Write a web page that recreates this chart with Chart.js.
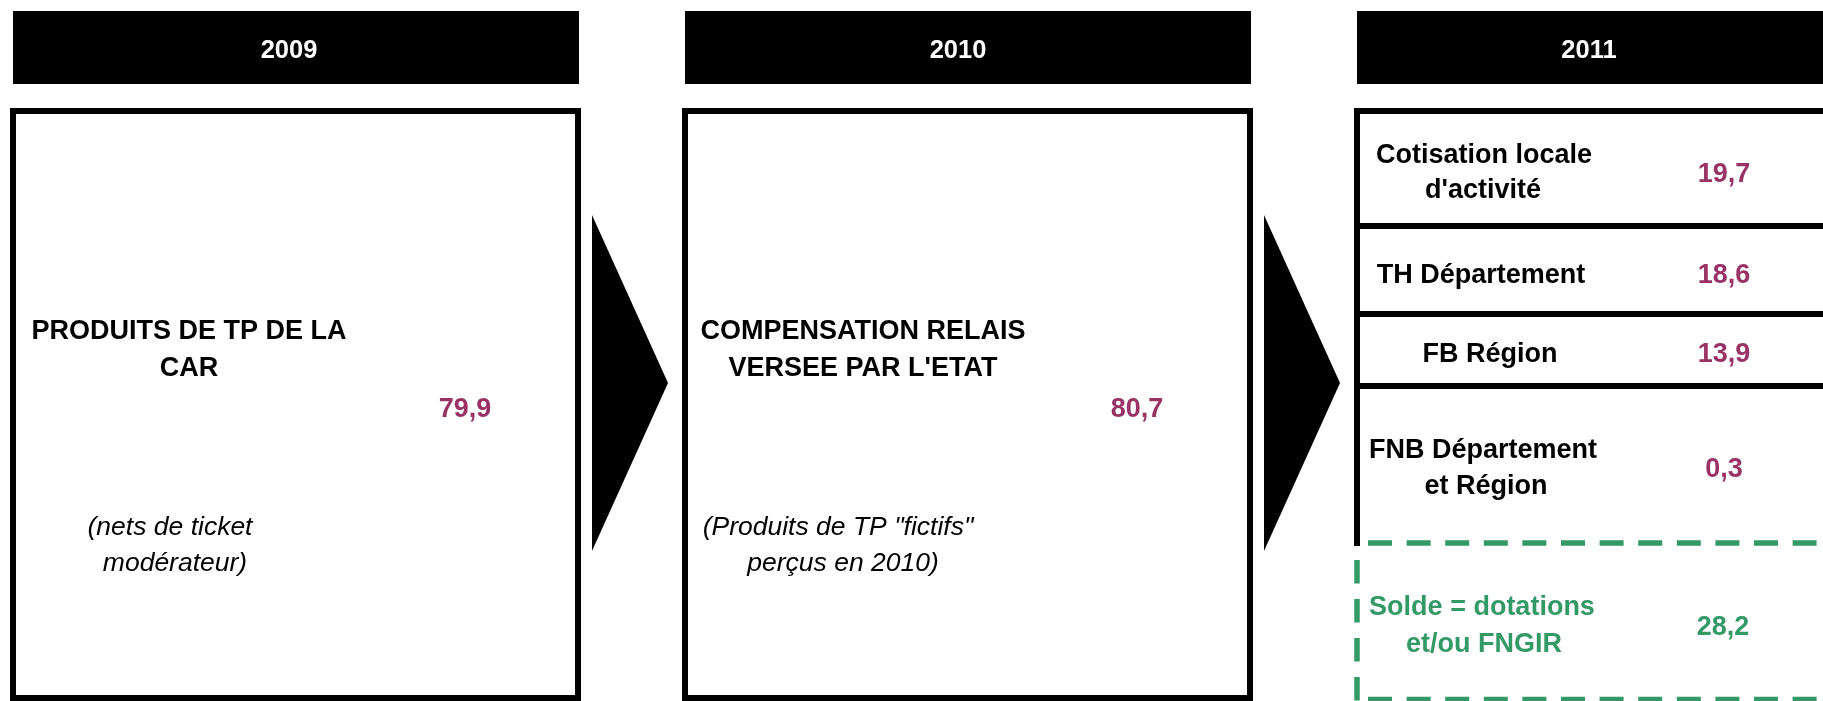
<!DOCTYPE html>
<html>
<head>
<meta charset="utf-8">
<title>Produits de TP 2009 - 2011</title>
<script src="https://cdn.jsdelivr.net/npm/chart.js@4/dist/chart.umd.min.js"></script>
<style>
  html, body { margin: 0; padding: 0; background: #fff; overflow: hidden; font-family: Arial, "Liberation Sans", sans-serif; }
  #wrap { width: 1823px; height: 701px; }
</style>
</head>
<body>
<div id="wrap"><canvas id="myChart"></canvas></div>
<script>
let years = ['2009', '2010', '2011']
let sourceLabels = [['PRODUITS DE TP DE LA', 'CAR'], ['COMPENSATION RELAIS', "VERSEE PAR L'ETAT"]]
let sourceNotes = [['(nets de ticket', 'modérateur)'], ['(Produits de TP "fictifs"', 'perçus en 2010)']]
let sourceValues = [79.9, 80.7]
let taxLabels = [['Cotisation locale', "d'activité"], ['TH Département'], ['FB Région'], ['FNB Département', 'et Région']]
let taxValues = [19.7, 18.6, 13.9, 0.3]
let balanceLabel = ['Solde = dotations', 'et/ou FNGIR']
let balanceValue = 28.2

const PURPLE = '#993366'
const GREEN = '#339966'
const FONT = 'Arial, "Liberation Sans", Helvetica, sans-serif'
const BOLD = 'bold 27px ' + FONT
const ITALIC = 'italic 26.5px ' + FONT

// geometry, in the units of the hidden x (0..1823) and y (0..701) scales
const headers = [[13, 579], [685, 1251], [1357, 1830]]
const yearX = [289, 958, 1589]
const boxes = [[13, 578], [685, 1250]]
const labelX = [189, 863]
const noteX = [170, 838]
const valueX = [465, 1137]
const arrows = [592, 1264]
const rowLines = [226, 314, 386]
const rowLabelX = [[1484, 1483], [1481], [1490], [1483, 1486]]
const rowLabelBase = [[163, 198], [283], [362], [458, 494]]
const rowValueBase = [182, 283, 362, 477]

function fmt(v) {
  return v.toFixed(1).replace('.', ',')
}

const diagram = {
  id: 'diagram',
  afterDraw(chart) {
    const ctx = chart.ctx
    const X = (v) => chart.scales.x.getPixelForValue(v)
    const Y = (v) => chart.scales.y.getPixelForValue(v)

    function text(str, x, y, font, color) {
      ctx.font = font
      ctx.fillStyle = color
      ctx.textAlign = 'center'
      ctx.textBaseline = 'alphabetic'
      ctx.fillText(str, X(x), Y(y))
    }
    function line(x1, y1, x2, y2, width, color, dash) {
      ctx.beginPath()
      ctx.lineWidth = width
      ctx.strokeStyle = color
      ctx.lineCap = 'butt'
      ctx.setLineDash(dash || [])
      ctx.moveTo(X(x1), Y(y1))
      ctx.lineTo(X(x2), Y(y2))
      ctx.stroke()
      ctx.setLineDash([])
    }

    ctx.save()

    // year headers
    headers.forEach((h, i) => {
      ctx.fillStyle = '#000'
      ctx.fillRect(X(h[0]), Y(11), X(h[1]) - X(h[0]), Y(84) - Y(11))
      text(years[i], yearX[i], 58, 'bold 25.5px ' + FONT, '#fff')
    })

    // 2009 and 2010 boxes
    boxes.forEach((b, i) => {
      ctx.lineWidth = 6
      ctx.strokeStyle = '#000'
      ctx.strokeRect(X(b[0]), Y(111), X(b[1]) - X(b[0]), Y(698) - Y(111))
      text(sourceLabels[i][0], labelX[i], 339, BOLD, '#000')
      text(sourceLabels[i][1], labelX[i], 376, BOLD, '#000')
      text(fmt(sourceValues[i]), valueX[i], 417, BOLD, PURPLE)
      text(sourceNotes[i][0], noteX[i], 535, ITALIC, '#000')
      text(sourceNotes[i][1], noteX[i] + 5, 571, ITALIC, '#000')
    })

    // arrows between years
    arrows.forEach((a) => {
      ctx.beginPath()
      ctx.fillStyle = '#000'
      ctx.moveTo(X(a), Y(215))
      ctx.lineTo(X(a + 76), Y(383))
      ctx.lineTo(X(a), Y(551))
      ctx.closePath()
      ctx.fill()
    })

    // 2011 breakdown
    line(1354, 111, 1830, 111, 6, '#000')
    line(1357, 108, 1357, 546, 6, '#000')
    rowLines.forEach((y) => line(1360, y, 1830, y, 6, '#000'))
    taxLabels.forEach((lbl, i) => {
      lbl.forEach((s, j) => text(s, rowLabelX[i][j], rowLabelBase[i][j], BOLD, '#000'))
      text(fmt(taxValues[i]), 1724, rowValueBase[i], BOLD, PURPLE)
    })

    // remaining balance, dashed
    line(1368, 543, 1830, 543, 5.5, GREEN, [24, 14.6])
    line(1368, 699.5, 1830, 699.5, 5.5, GREEN, [24, 14.6])
    line(1357, 560, 1357, 701, 5.5, GREEN, [23.5, 15.5])
    text(balanceLabel[0], 1482, 615, BOLD, GREEN)
    text(balanceLabel[1], 1484, 652, BOLD, GREEN)
    text(fmt(balanceValue), 1723, 635, BOLD, GREEN)

    ctx.restore()
  }
}

let myChart = document.getElementById('myChart').getContext('2d')
let diagramChart = new Chart(myChart, {
  type: 'scatter',
  data: {
    labels: years,
    datasets: [{ data: [] }]
  },
  options: {
    responsive: true,
    maintainAspectRatio: false,
    animation: false,
    layout: { padding: 0 },
    plugins: {
      legend: { display: false },
      tooltip: { enabled: false }
    },
    scales: {
      x: { type: 'linear', min: 0, max: 1823, display: false },
      y: { type: 'linear', min: 0, max: 701, reverse: true, display: false }
    }
  },
  plugins: [diagram]
})
</script>
</body>
</html>
